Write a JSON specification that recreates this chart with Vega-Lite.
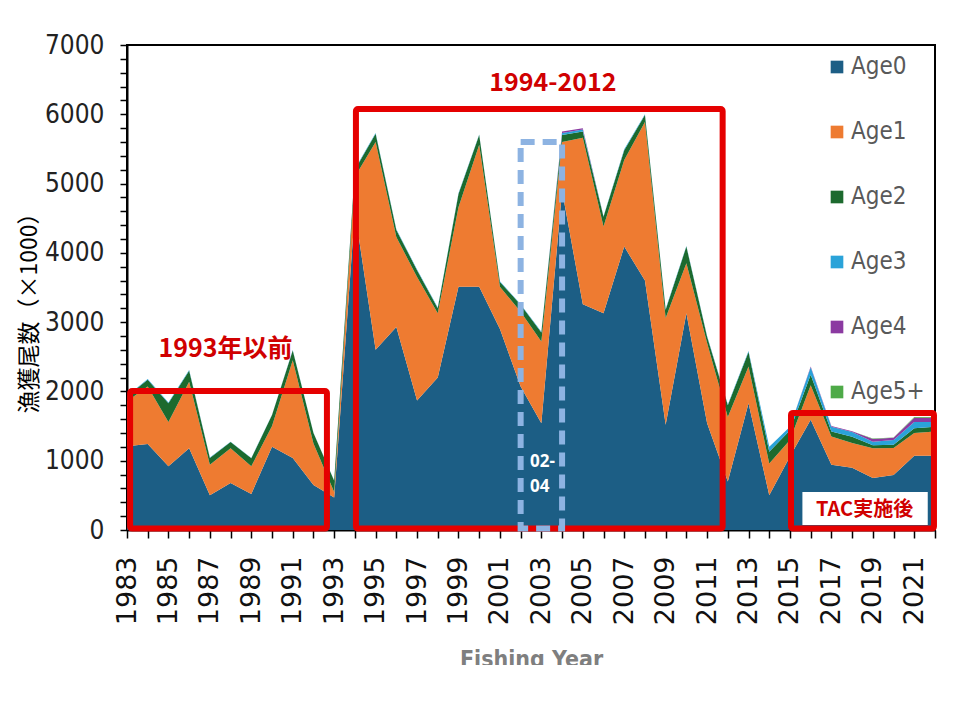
{
  "$schema": "https://vega.github.io/schema/vega-lite/v6.json",
  "description": "漁獲尾数 by age, 1983-2022, with period annotations.",
  "width": 808,
  "height": 485,
  "autosize": {"type": "none"},
  "padding": {"left": 127, "top": 45, "right": 25, "bottom": 135},
  "background": "white",
  "config": {
    "view": {"stroke": "#000", "strokeWidth": 2},
    "axis": {"domainColor": "#000", "domainWidth": 2, "tickColor": "#000", "tickWidth": 1.5, "grid": false}
  },
  "resolve": {"axis": {"x": "independent", "y": "independent"}},
  "datasets": {
    "catch": [
      {"year": 1983, "Age0": 1210, "Age1": 650, "Age2": 70, "Age3": 5, "Age4": 0, "Age5+": 0},
      {"year": 1984, "Age0": 1240, "Age1": 830, "Age2": 100, "Age3": 8, "Age4": 0, "Age5+": 0},
      {"year": 1985, "Age0": 920, "Age1": 640, "Age2": 270, "Age3": 10, "Age4": 0, "Age5+": 0},
      {"year": 1986, "Age0": 1180, "Age1": 960, "Age2": 160, "Age3": 8, "Age4": 0, "Age5+": 0},
      {"year": 1987, "Age0": 500, "Age1": 440, "Age2": 100, "Age3": 5, "Age4": 0, "Age5+": 0},
      {"year": 1988, "Age0": 680, "Age1": 500, "Age2": 90, "Age3": 5, "Age4": 0, "Age5+": 0},
      {"year": 1989, "Age0": 520, "Age1": 400, "Age2": 115, "Age3": 5, "Age4": 0, "Age5+": 0},
      {"year": 1990, "Age0": 1200, "Age1": 300, "Age2": 160, "Age3": 5, "Age4": 0, "Age5+": 0},
      {"year": 1991, "Age0": 1040, "Age1": 1410, "Age2": 140, "Age3": 8, "Age4": 0, "Age5+": 0},
      {"year": 1992, "Age0": 650, "Age1": 600, "Age2": 150, "Age3": 5, "Age4": 0, "Age5+": 0},
      {"year": 1993, "Age0": 470, "Age1": 80, "Age2": 160, "Age3": 5, "Age4": 0, "Age5+": 0},
      {"year": 1994, "Age0": 4600, "Age1": 500, "Age2": 100, "Age3": 10, "Age4": 0, "Age5+": 0},
      {"year": 1995, "Age0": 2600, "Age1": 3000, "Age2": 120, "Age3": 10, "Age4": 0, "Age5+": 0},
      {"year": 1996, "Age0": 2930, "Age1": 1300, "Age2": 100, "Age3": 10, "Age4": 0, "Age5+": 0},
      {"year": 1997, "Age0": 1870, "Age1": 1780, "Age2": 100, "Age3": 10, "Age4": 0, "Age5+": 0},
      {"year": 1998, "Age0": 2200, "Age1": 930, "Age2": 70, "Age3": 10, "Age4": 0, "Age5+": 0},
      {"year": 1999, "Age0": 3510, "Age1": 1150, "Age2": 190, "Age3": 10, "Age4": 0, "Age5+": 0},
      {"year": 2000, "Age0": 3510, "Age1": 2050, "Age2": 140, "Age3": 10, "Age4": 0, "Age5+": 0},
      {"year": 2001, "Age0": 2900, "Age1": 610, "Age2": 70, "Age3": 10, "Age4": 0, "Age5+": 0},
      {"year": 2002, "Age0": 2070, "Age1": 1080, "Age2": 100, "Age3": 10, "Age4": 0, "Age5+": 0},
      {"year": 2003, "Age0": 1540, "Age1": 1180, "Age2": 130, "Age3": 10, "Age4": 0, "Age5+": 0},
      {"year": 2004, "Age0": 4900, "Age1": 700, "Age2": 100, "Age3": 30, "Age4": 20, "Age5+": 0},
      {"year": 2005, "Age0": 3260, "Age1": 2400, "Age2": 90, "Age3": 30, "Age4": 20, "Age5+": 0},
      {"year": 2006, "Age0": 3130, "Age1": 1250, "Age2": 140, "Age3": 10, "Age4": 0, "Age5+": 0},
      {"year": 2007, "Age0": 4090, "Age1": 1250, "Age2": 140, "Age3": 15, "Age4": 0, "Age5+": 0},
      {"year": 2008, "Age0": 3600, "Age1": 2290, "Age2": 100, "Age3": 10, "Age4": 0, "Age5+": 0},
      {"year": 2009, "Age0": 1520, "Age1": 1540, "Age2": 120, "Age3": 10, "Age4": 0, "Age5+": 0},
      {"year": 2010, "Age0": 3130, "Age1": 720, "Age2": 240, "Age3": 10, "Age4": 0, "Age5+": 0},
      {"year": 2011, "Age0": 1540, "Age1": 1160, "Age2": 90, "Age3": 10, "Age4": 0, "Age5+": 0},
      {"year": 2012, "Age0": 700, "Age1": 930, "Age2": 170, "Age3": 10, "Age4": 0, "Age5+": 0},
      {"year": 2013, "Age0": 1830, "Age1": 530, "Age2": 210, "Age3": 15, "Age4": 0, "Age5+": 0},
      {"year": 2014, "Age0": 500, "Age1": 460, "Age2": 170, "Age3": 70, "Age4": 0, "Age5+": 0},
      {"year": 2015, "Age0": 1060, "Age1": 240, "Age2": 140, "Age3": 50, "Age4": 0, "Age5+": 0},
      {"year": 2016, "Age0": 1590, "Age1": 500, "Age2": 150, "Age3": 110, "Age4": 10, "Age5+": 0},
      {"year": 2017, "Age0": 940, "Age1": 410, "Age2": 70, "Age3": 70, "Age4": 10, "Age5+": 0},
      {"year": 2018, "Age0": 900, "Age1": 355, "Age2": 90, "Age3": 70, "Age4": 10, "Age5+": 0},
      {"year": 2019, "Age0": 750, "Age1": 430, "Age2": 45, "Age3": 50, "Age4": 40, "Age5+": 5},
      {"year": 2020, "Age0": 795, "Age1": 390, "Age2": 45, "Age3": 70, "Age4": 30, "Age5+": 5},
      {"year": 2021, "Age0": 1070, "Age1": 330, "Age2": 70, "Age3": 90, "Age4": 60, "Age5+": 10},
      {"year": 2022, "Age0": 1070, "Age1": 350, "Age2": 70, "Age3": 70, "Age4": 60, "Age5+": 10}
    ],
    "redBoxes": [
      {"x1": 1983.15, "x2": 1992.65, "y1": 20, "y2": 2005},
      {"x1": 1994.05, "x2": 2011.75, "y1": 20, "y2": 6075},
      {"x1": 2015.05, "x2": 2021.95, "y1": 20, "y2": 1690}
    ],
    "blueBox": [
      {"x1": 2002.0, "x2": 2004.0, "y1": 20, "y2": 5600}
    ],
    "tacBox": [
      {"x1": 2015.6, "x2": 2021.65, "y1": 72, "y2": 548}
    ],
    "redLabels": [
      {"label": "1993年以前", "x": 1987.75, "y": 2612},
      {"label": "1994-2012", "x": 2003.56, "y": 6450}
    ],
    "whiteLabels": [
      {"label": "02-", "x": 2002.45, "y": 981},
      {"label": "04", "x": 2002.45, "y": 620}
    ],
    "tacLabel": [
      {"label": "TAC実施後", "x": 2018.6, "y": 289}
    ]
  },
  "layer": [
    {
      "data": {"name": "catch"},
      "transform": [
        {"fold": ["Age0", "Age1", "Age2", "Age3", "Age4", "Age5+"], "as": ["age", "count"]}
      ],
      "mark": {"type": "area", "interpolate": "linear"},
      "encoding": {
        "x": {
          "field": "year",
          "type": "quantitative",
          "scale": {"domain": [1983, 2022], "nice": false, "zero": false},
          "axis": {
            "title": "Fishing Year",
            "titleFont": "DejaVu Sans Condensed, Liberation Sans, sans-serif",
            "titleFontSize": 23,
            "titleFontWeight": "bold",
            "titleColor": "#7f7f7f",
            "titleY": 118,
            "titleBaseline": "top",
            "values": [1983, 1984, 1985, 1986, 1987, 1988, 1989, 1990, 1991, 1992, 1993, 1994, 1995, 1996, 1997, 1998, 1999, 2000, 2001, 2002, 2003, 2004, 2005, 2006, 2007, 2008, 2009, 2010, 2011, 2012, 2013, 2014, 2015, 2016, 2017, 2018, 2019, 2020, 2021, 2022],
            "format": "d",
            "labelExpr": "datum.value % 2 == 1 ? datum.label : ''",
            "labelAngle": -90,
            "labelAlign": "right",
            "labelBaseline": "middle",
            "labelFont": "DejaVu Sans",
            "labelFontSize": 27,
            "labelColor": "#111",
            "labelPadding": 18,
            "labelOverlap": false,
            "labelFlush": false,
            "tickSize": 8
          }
        },
        "y": {
          "field": "count",
          "type": "quantitative",
          "stack": "zero",
          "scale": {"domain": [0, 7000], "nice": false},
          "axis": {
            "title": "漁獲尾数（×1000）",
            "titleFont": "Noto Sans CJK JP",
            "titleFontSize": 23,
            "titleFontWeight": "normal",
            "titleColor": "#000",
            "titleX": -86,
            "titleY": 262,
            "values": [0, 200, 400, 600, 800, 1000, 1200, 1400, 1600, 1800, 2000, 2200, 2400, 2600, 2800, 3000, 3200, 3400, 3600, 3800, 4000, 4200, 4400, 4600, 4800, 5000, 5200, 5400, 5600, 5800, 6000, 6200, 6400, 6600, 6800, 7000],
            "format": "d",
            "labelExpr": "datum.value % 1000 == 0 ? datum.label : ''",
            "labelFont": "DejaVu Sans Condensed, Liberation Sans, sans-serif",
            "labelFontSize": 26,
            "labelColor": "#222",
            "labelPadding": 16,
            "labelOverlap": false,
            "labelFlush": false,
            "tickSize": 7
          }
        },
        "color": {
          "field": "age",
          "type": "nominal",
          "scale": {
            "domain": ["Age0", "Age1", "Age2", "Age3", "Age4", "Age5+"],
            "range": ["#1c5e85", "#ee7b31", "#1c6a2e", "#2aa3d9", "#8b3aa1", "#4eaa48"]
          },
          "legend": {
            "title": null,
            "orient": "none",
            "legendX": 698,
            "legendY": 10,
            "padding": 0,
            "symbolType": "square",
            "symbolSize": 160,
            "symbolStrokeWidth": 0,
            "labelFont": "DejaVu Sans Condensed, Liberation Sans, sans-serif",
            "labelFontSize": 24,
            "labelColor": "#595959",
            "labelOffset": 2,
            "rowPadding": 41
          }
        },
        "order": {"field": "age", "sort": "ascending"}
      }
    },
    {
      "data": {"name": "redBoxes"},
      "mark": {"type": "rect", "fillOpacity": 0, "stroke": "#e50000", "strokeWidth": 6, "cornerRadius": 2},
      "encoding": {
        "x": {"field": "x1", "type": "quantitative", "axis": null},
        "x2": {"field": "x2"},
        "y": {"field": "y1", "type": "quantitative", "axis": null},
        "y2": {"field": "y2"}
      }
    },
    {
      "data": {"name": "blueBox"},
      "mark": {"type": "rect", "fillOpacity": 0, "stroke": "#8db3e2", "strokeWidth": 6, "strokeDash": [14, 8]},
      "encoding": {
        "x": {"field": "x1", "type": "quantitative", "axis": null},
        "x2": {"field": "x2"},
        "y": {"field": "y1", "type": "quantitative", "axis": null},
        "y2": {"field": "y2"}
      }
    },
    {
      "data": {"name": "tacBox"},
      "mark": {"type": "rect", "fill": "white"},
      "encoding": {
        "x": {"field": "x1", "type": "quantitative", "axis": null},
        "x2": {"field": "x2"},
        "y": {"field": "y1", "type": "quantitative", "axis": null},
        "y2": {"field": "y2"}
      }
    },
    {
      "data": {"name": "redLabels"},
      "mark": {"type": "text", "font": "Noto Sans CJK JP", "fontWeight": "bold", "fontSize": 25, "color": "#d00000", "align": "center", "baseline": "middle"},
      "encoding": {
        "x": {"field": "x", "type": "quantitative", "axis": null},
        "y": {"field": "y", "type": "quantitative", "axis": null},
        "text": {"field": "label"}
      }
    },
    {
      "data": {"name": "whiteLabels"},
      "mark": {"type": "text", "font": "Open Sans", "fontWeight": "bold", "fontSize": 17, "color": "white", "align": "left", "baseline": "middle"},
      "encoding": {
        "x": {"field": "x", "type": "quantitative", "axis": null},
        "y": {"field": "y", "type": "quantitative", "axis": null},
        "text": {"field": "label"}
      }
    },
    {
      "data": {"name": "tacLabel"},
      "mark": {"type": "text", "font": "Noto Sans CJK JP", "fontWeight": "bold", "fontSize": 20, "color": "#d00000", "align": "center", "baseline": "middle"},
      "encoding": {
        "x": {"field": "x", "type": "quantitative", "axis": null},
        "y": {"field": "y", "type": "quantitative", "axis": null},
        "text": {"field": "label"}
      }
    }
  ]
}
